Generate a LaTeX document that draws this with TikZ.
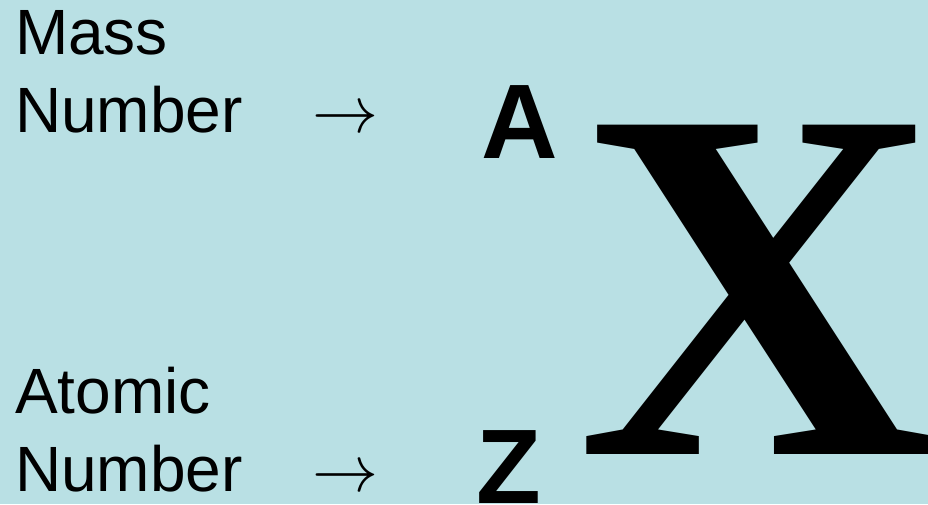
\documentclass[tikz,border=0pt]{standalone}
\usepackage{graphicx}
\usepackage{fontspec}
\setmainfont{Liberation Sans}
\newfontfamily\serifx{Liberation Serif}
\definecolor{bgblue}{RGB}{185,224,228}
\tikzset{
  lbl/.style={anchor=base west, inner sep=0pt, outer sep=0pt, font=\fontsize{64}{78}\selectfont},
  arr/.style={anchor=base west, inner sep=0pt, outer sep=0pt},
  sym/.style={anchor=base west, inner sep=0pt, outer sep=0pt, font=\fontsize{106}{106}\selectfont\bfseries},
  big/.style={anchor=base west, inner sep=0pt, outer sep=0pt, font=\fontsize{503}{503}\selectfont\serifx\bfseries}
}
\begin{document}
\begin{tikzpicture}[x=1pt,y=1pt]
\useasboundingbox (0,0) rectangle (928,504);
\clip (0,0) rectangle (928,504);
\fill[bgblue] (0,0) rectangle (928,504);
\node[lbl] (mass1) at (15,449) {Mass};
\node[lbl] (mass2) at (15,371) {Number};
\node[arr] (arrA) at (312,371) {\scalebox{6.6}{$\rightarrow$}};
\node[sym] (A) at (481,345) {A};
\node[lbl] (atom1) at (15,91) {Atomic};
\node[lbl] (atom2) at (15,13) {Number};
\node[arr] (arrZ) at (312,13) {\scalebox{6.6}{$\rightarrow$}};
\node[sym] (Z) at (476,1) {Z};
\node[big] (X) at (577,50) {X};
\end{tikzpicture}
\end{document}
